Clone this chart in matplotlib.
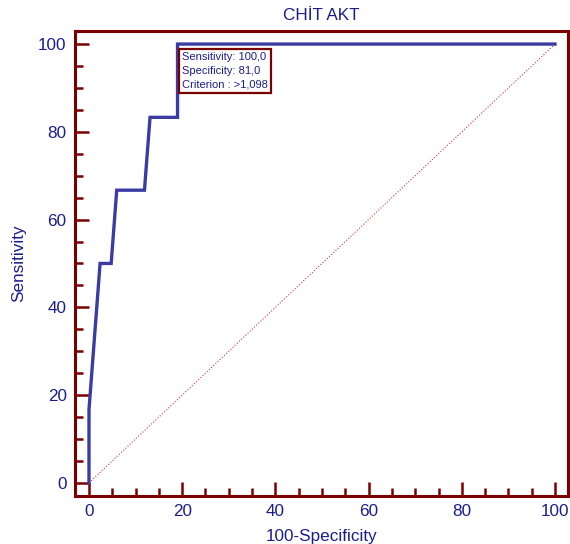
import matplotlib.pyplot as plt
import numpy as np

# ROC curve points (100-Specificity, Sensitivity)
fpr = [0, 0, 2.38, 4.76, 5.95, 11.9, 13.1, 19.0, 19.0, 100]
tpr = [0, 16.7, 50.0, 50.0, 66.7, 66.7, 83.3, 83.3, 100, 100]
diag = [0, 100]
box_lines = ["Sensitivity: 100,0", "Specificity: 81,0", "Criterion : >1,098"]

navy = "#1c1c8c"
line_col = "#3a3ca4"
maroon = "#7a0000"

plt.rcParams["font.family"] = ["Liberation Sans", "DejaVu Sans"]

fig = plt.figure(figsize=(5.7, 5.44), dpi=100)
ax = fig.add_axes([0.1316, 0.0882, 0.865, 0.855])

ax.plot(diag, diag, color="#c04040", linestyle=":", linewidth=0.8)
ax.plot(fpr, tpr, color=line_col, linewidth=2.4, solid_joinstyle="miter")

ax.set_xlim(-3, 102.8)
ax.set_ylim(-3, 103)
ax.set_xticks(np.arange(0, 101, 20))
ax.set_yticks(np.arange(0, 101, 20))
ax.set_xticks(np.arange(0, 101, 5), minor=True)
ax.set_yticks(np.arange(0, 101, 5), minor=True)

for s in ax.spines.values():
    s.set_color(maroon)
    s.set_linewidth(2.2)

ax.tick_params(which="major", direction="in", length=10, width=1.8,
               color=maroon, labelcolor=navy, labelsize=12.3, pad=6)
ax.tick_params(which="minor", direction="in", length=5.5, width=1.8,
               color=maroon)

ax.set_title("CHİT AKT", color=navy, fontsize=12.3, pad=8)
ax.set_xlabel("100-Specificity", color=navy, fontsize=12.3, labelpad=7)
ax.set_ylabel("Sensitivity", color=navy, fontsize=12.3, labelpad=9)

ax.text(20.0, 98.2, "\n".join(box_lines), color=navy, fontsize=8.0,
        va="top", ha="left", linespacing=1.5,
        bbox=dict(boxstyle="square,pad=0.3", facecolor="white",
                  edgecolor=maroon, linewidth=1.6))

fig.savefig("out.png", dpi=100)
